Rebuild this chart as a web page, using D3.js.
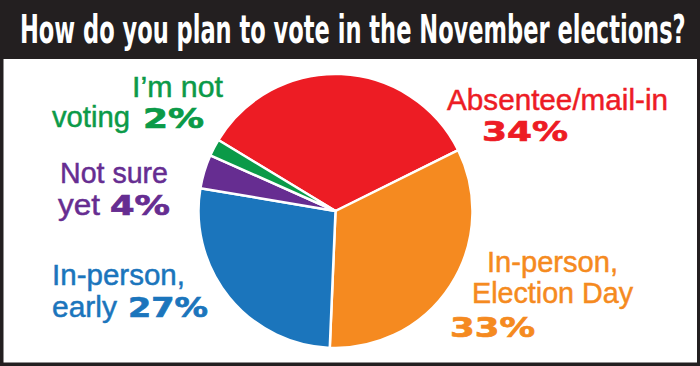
<!DOCTYPE html>
<html>
<head>
<meta charset="utf-8">
<script src="https://cdn.jsdelivr.net/npm/d3@7"></script>
<style>
  html, body { margin: 0; padding: 0; background: #fff; }
  svg { display: block; }
</style>
</head>
<body>
<svg id="chart" width="700" height="366"></svg>
<script>
// ---- Data ----
const title = "How do you plan to vote in the November elections?";
const categories = ["Absentee/mail-in", "In-person, Election Day", "In-person, early", "Not sure yet", "I’m not voting"];
const values = [34, 33, 27, 4, 2];
const colors = ["#ed1c24", "#f58a20", "#1b75bc", "#662d91", "#0b9a48"];
const labelLines = [
  ["Absentee/mail-in"],
  ["In-person,", "Election Day"],
  ["In-person,", "early"],
  ["Not sure", "yet"],
  ["I’m not", "voting"]
];

// ---- Layout (positions of label lines and percentage text) ----
const layout = [
  { lines: [{x: 447, y: 110, w: 221}], pct: {x: 482, y: 141, w: 86} },
  { lines: [{x: 487, y: 272, w: 131}, {x: 472, y: 303, w: 161}], pct: {x: 450, y: 337, w: 85} },
  { lines: [{x: 52, y: 285, w: 133}, {x: 52, y: 317, w: 65}], pct: {x: 128, y: 317, w: 80} },
  { lines: [{x: 60, y: 183, w: 108}, {x: 58, y: 215, w: 42}], pct: {x: 110, y: 215, w: 60} },
  { lines: [{x: 132, y: 97, w: 91}, {x: 52, y: 127, w: 78}], pct: {x: 143, y: 128, w: 61} }
];

const W = 700, H = 366;
const svg = d3.select("#chart");

// background + frame
svg.append("rect").attr("x", 0).attr("y", 0).attr("width", W).attr("height", H).attr("fill", "#231f20");
svg.append("rect").attr("x", 3.5).attr("y", 59).attr("width", W - 3.5 - 3).attr("height", H - 59 - 3.5).attr("fill", "#fff");

// title: fit natural width to target, then stretch vertically to the reference cap height
const titleW = 666, titleSize = 39;
const tg = svg.append("g");
const tt = tg.append("text")
  .attr("x", 0).attr("y", 0)
  .attr("fill", "#fff")
  .attr("font-family", "'Liberation Sans Narrow', 'DejaVu Sans Condensed', sans-serif")
  .attr("font-weight", "bold")
  .attr("font-size", titleSize)
  .text(title);
const natural = tt.node().getComputedTextLength();
const fs = titleSize * titleW / natural;
tt.attr("font-size", fs);
tg.attr("transform", `translate(20,43) scale(1,${titleSize / fs})`);

// pie
const cx = 335.5, cy = 211, r = 137;
const start = -58.8 * Math.PI / 180;
const pie = d3.pie().sort(null).value(d => d).startAngle(start).endAngle(start + 2 * Math.PI);
const arc = d3.arc().innerRadius(0).outerRadius(r);
const g = svg.append("g").attr("transform", `translate(${cx},${cy})`);
g.selectAll("path").data(pie(values)).join("path")
  .attr("d", arc)
  .attr("fill", (d, i) => colors[i])
  .attr("stroke", "#fff")
  .attr("stroke-width", 2.5)
  .attr("stroke-linejoin", "round");

// labels
categories.forEach((cat, i) => {
  const L = layout[i];
  labelLines[i].forEach((line, j) => {
    const p = L.lines[j];
    svg.append("text")
      .attr("x", p.x).attr("y", p.y)
      .attr("fill", colors[i])
      .attr("stroke", colors[i]).attr("stroke-width", 0.5)
      .attr("font-family", "'Liberation Sans', Arial, sans-serif")
      .attr("font-size", 30)
      .attr("textLength", p.w)
      .attr("lengthAdjust", "spacingAndGlyphs")
      .text(line);
  });
  svg.append("text")
    .attr("x", L.pct.x).attr("y", L.pct.y)
    .attr("fill", colors[i])
    .attr("stroke", colors[i]).attr("stroke-width", 0.7)
    .attr("font-family", "'DejaVu Sans', sans-serif")
    .attr("font-weight", "bold")
    .attr("font-size", 27)
    .attr("textLength", L.pct.w)
    .attr("lengthAdjust", "spacingAndGlyphs")
    .text(values[i] + "%");
});
</script>
</body>
</html>
